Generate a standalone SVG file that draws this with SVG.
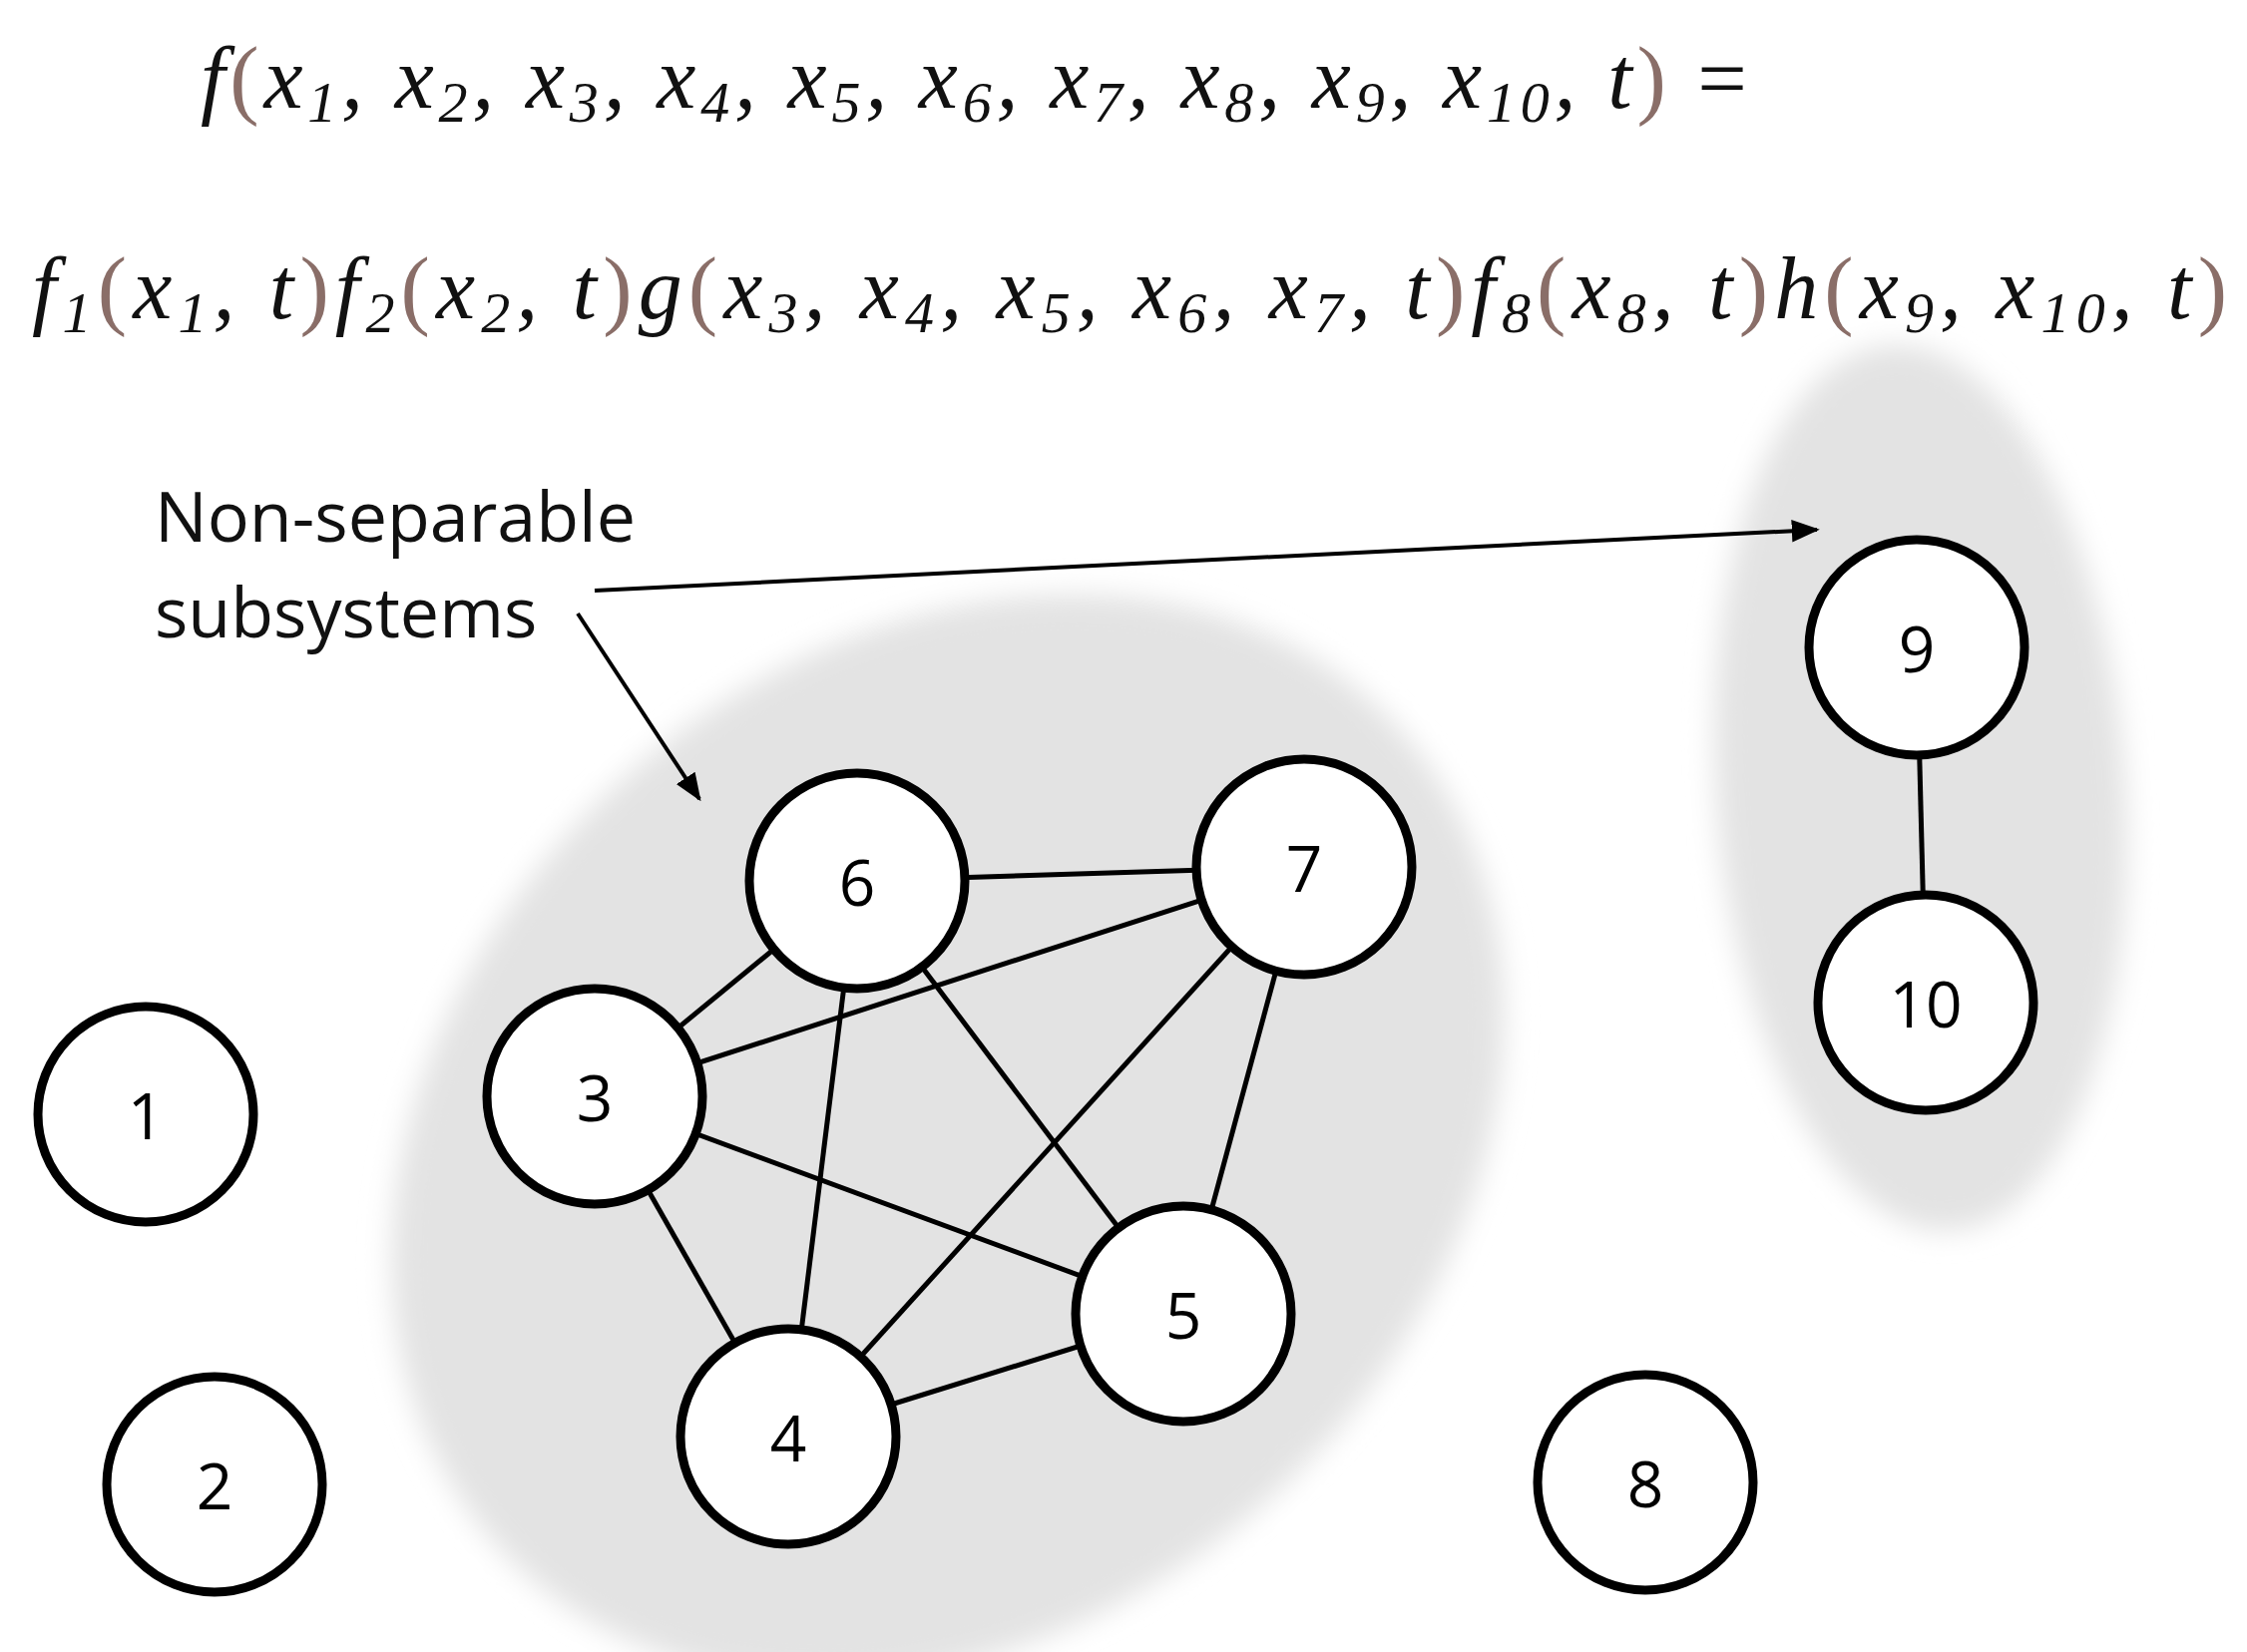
<svg xmlns="http://www.w3.org/2000/svg" width="2252" height="1656" viewBox="0 0 2252 1656">
<defs>
<filter id="blur" x="-20%" y="-20%" width="140%" height="140%"><feGaussianBlur stdDeviation="14"/></filter>
<marker id="arr" viewBox="0 0 10 10" refX="9" refY="5" markerWidth="7" markerHeight="7" orient="auto"><path d="M0,1 L10,5 L0,9 z" fill="#000"/></marker>
</defs>
<style>
.n{fill:#fff;stroke:#000;stroke-width:9}
.l{font-family:"Open Sans","Liberation Sans",sans-serif;font-size:64px;text-anchor:middle;dominant-baseline:central}
.e{stroke:#000;stroke-width:5;fill:none}
.m{font-family:"Liberation Serif",serif;font-style:italic;font-size:88px;fill:#111}
.p{fill:#8a6e68;font-style:normal}
.s{font-size:58px}
.t{font-family:"Open Sans","Liberation Sans",sans-serif;font-size:70px;fill:#111}
</style>
<rect width="2252" height="1656" fill="#fff"/>
<g id="clusters">
<ellipse cx="950" cy="1140" rx="610" ry="485" transform="rotate(-42 950 1140)" fill="#e3e3e3" filter="url(#blur)"/>
<ellipse cx="1925" cy="790" rx="205" ry="445" transform="rotate(-4 1925 790)" fill="#e3e3e3" filter="url(#blur)"/>
</g>
<g id="equation">
<text class="m" x="201" y="108" textLength="1550" lengthAdjust="spacing">f<tspan class="p">(</tspan>x<tspan class="s" dy="14">1</tspan><tspan dy="-14">, x</tspan><tspan class="s" dy="14">2</tspan><tspan dy="-14">, x</tspan><tspan class="s" dy="14">3</tspan><tspan dy="-14">, x</tspan><tspan class="s" dy="14">4</tspan><tspan dy="-14">, x</tspan><tspan class="s" dy="14">5</tspan><tspan dy="-14">, x</tspan><tspan class="s" dy="14">6</tspan><tspan dy="-14">, x</tspan><tspan class="s" dy="14">7</tspan><tspan dy="-14">, x</tspan><tspan class="s" dy="14">8</tspan><tspan dy="-14">, x</tspan><tspan class="s" dy="14">9</tspan><tspan dy="-14">, x</tspan><tspan class="s" dy="14">10</tspan><tspan dy="-14">, t</tspan><tspan class="p">)</tspan><tspan style="font-style:normal"> =</tspan></text>
<text class="m" x="32" y="319" textLength="2200" lengthAdjust="spacing">f<tspan class="s" dy="14">1</tspan><tspan class="p" dy="-14">(</tspan>x<tspan class="s" dy="14">1</tspan><tspan dy="-14">, t</tspan><tspan class="p">)</tspan>f<tspan class="s" dy="14">2</tspan><tspan class="p" dy="-14">(</tspan>x<tspan class="s" dy="14">2</tspan><tspan dy="-14">, t</tspan><tspan class="p">)</tspan>g<tspan class="p">(</tspan>x<tspan class="s" dy="14">3</tspan><tspan dy="-14">, x</tspan><tspan class="s" dy="14">4</tspan><tspan dy="-14">, x</tspan><tspan class="s" dy="14">5</tspan><tspan dy="-14">, x</tspan><tspan class="s" dy="14">6</tspan><tspan dy="-14">, x</tspan><tspan class="s" dy="14">7</tspan><tspan dy="-14">, t</tspan><tspan class="p">)</tspan>f<tspan class="s" dy="14">8</tspan><tspan class="p" dy="-14">(</tspan>x<tspan class="s" dy="14">8</tspan><tspan dy="-14">, t</tspan><tspan class="p">)</tspan>h<tspan class="p">(</tspan>x<tspan class="s" dy="14">9</tspan><tspan dy="-14">, x</tspan><tspan class="s" dy="14">10</tspan><tspan dy="-14">, t</tspan><tspan class="p">)</tspan></text>
</g>
<g id="annotation">
<text class="t" x="155" y="543">Non-separable</text>
<text class="t" x="155" y="639">subsystems</text>
</g>
<g id="connectors">
<line class="e" x1="859" y1="883" x2="1307" y2="869"/>
<line class="e" x1="859" y1="883" x2="596" y2="1099"/>
<line class="e" x1="859" y1="883" x2="790" y2="1440"/>
<line class="e" x1="859" y1="883" x2="1186" y2="1317"/>
<line class="e" x1="596" y1="1099" x2="1307" y2="869"/>
<line class="e" x1="596" y1="1099" x2="790" y2="1440"/>
<line class="e" x1="596" y1="1099" x2="1186" y2="1317"/>
<line class="e" x1="790" y1="1440" x2="1307" y2="869"/>
<line class="e" x1="790" y1="1440" x2="1186" y2="1317"/>
<line class="e" x1="1307" y1="869" x2="1186" y2="1317"/>
<line class="e" x1="1921" y1="649" x2="1930" y2="1005"/>
<line x1="596" y1="592" x2="1821" y2="531" stroke="#000" stroke-width="4" marker-end="url(#arr)"/>
<line x1="579" y1="615" x2="701" y2="801" stroke="#000" stroke-width="4" marker-end="url(#arr)"/>
</g>
<g id="n1"><circle class="n" cx="146" cy="1117" r="108"/><text class="l" x="146" y="1117">1</text></g>
<g id="n2"><circle class="n" cx="215" cy="1488" r="108"/><text class="l" x="215" y="1488">2</text></g>
<g id="n3"><circle class="n" cx="596" cy="1099" r="108"/><text class="l" x="596" y="1099">3</text></g>
<g id="n4"><circle class="n" cx="790" cy="1440" r="108"/><text class="l" x="790" y="1440">4</text></g>
<g id="n5"><circle class="n" cx="1186" cy="1317" r="108"/><text class="l" x="1186" y="1317">5</text></g>
<g id="n6"><circle class="n" cx="859" cy="883" r="108"/><text class="l" x="859" y="883">6</text></g>
<g id="n7"><circle class="n" cx="1307" cy="869" r="108"/><text class="l" x="1307" y="869">7</text></g>
<g id="n8"><circle class="n" cx="1649" cy="1486" r="108"/><text class="l" x="1649" y="1486">8</text></g>
<g id="n9"><circle class="n" cx="1921" cy="649" r="108"/><text class="l" x="1921" y="649">9</text></g>
<g id="n10"><circle class="n" cx="1930" cy="1005" r="108"/><text class="l" x="1930" y="1005">10</text></g>
</svg>
